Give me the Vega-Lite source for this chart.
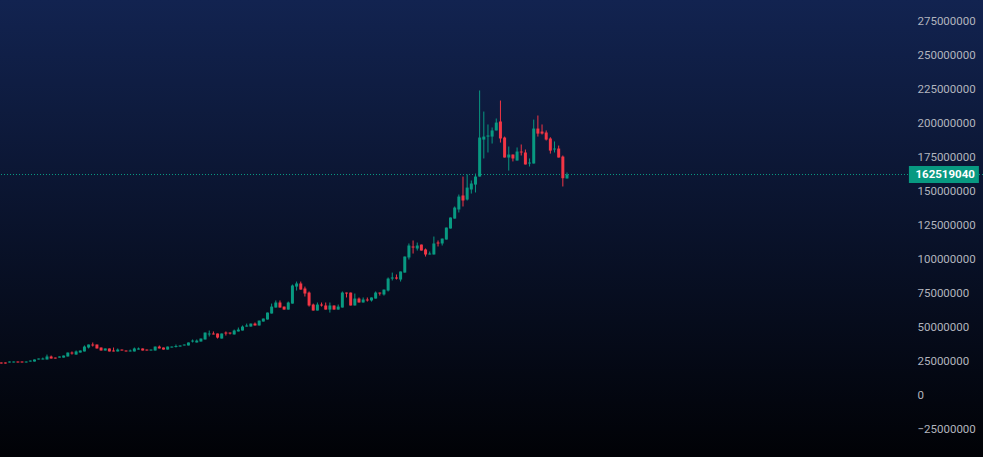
{
  "$schema": "https://vega.github.io/schema/vega-lite/v6.json",
  "width": 983,
  "height": 457,
  "padding": 0,
  "autosize": {"type": "none"},
  "background": "#020308",
  "view": {
    "stroke": null,
    "fill": {
      "gradient": "linear",
      "x1": 0, "y1": 0, "x2": 0, "y2": 1,
      "stops": [
        {"offset": 0, "color": "#122350"},
        {"offset": 1, "color": "#010206"}
      ]
    }
  },
  "config": {"font": "Roboto"},
  "datasets": {
    "candles": [
      {"t":-1,"o":24300000,"h":24300000,"l":23500000,"c":23500000},
      {"t":0,"o":24300000,"h":24300000,"l":23500000,"c":23500000},
      {"t":1,"o":24300000,"h":25000000,"l":24300000,"c":25000000},
      {"t":2,"o":24300000,"h":25000000,"l":24300000,"c":25000000},
      {"t":3,"o":25000000,"h":25000000,"l":24300000,"c":24300000},
      {"t":4,"o":25000000,"h":25000000,"l":24300000,"c":24300000},
      {"t":5,"o":24300000,"h":25000000,"l":24300000,"c":25000000},
      {"t":6,"o":25000000,"h":25700000,"l":25000000,"c":25700000},
      {"t":7,"o":25000000,"h":26500000,"l":25000000,"c":26500000},
      {"t":8,"o":26500000,"h":27200000,"l":26500000,"c":27200000},
      {"t":9,"o":26500000,"h":27900000,"l":26500000,"c":27200000},
      {"t":10,"o":26500000,"h":30100000,"l":26500000,"c":28700000},
      {"t":11,"o":28700000,"h":29400000,"l":27200000,"c":27200000},
      {"t":12,"o":27900000,"h":27900000,"l":27200000,"c":27200000},
      {"t":13,"o":27900000,"h":28700000,"l":27900000,"c":28700000},
      {"t":14,"o":27900000,"h":29400000,"l":27900000,"c":29400000},
      {"t":15,"o":28700000,"h":31600000,"l":28700000,"c":31600000},
      {"t":16,"o":31600000,"h":32400000,"l":30100000,"c":30900000},
      {"t":17,"o":30100000,"h":33100000,"l":30100000,"c":32400000},
      {"t":18,"o":31600000,"h":33100000,"l":31600000,"c":33100000},
      {"t":19,"o":32400000,"h":36800000,"l":32400000,"c":36000000},
      {"t":20,"o":35300000,"h":37500000,"l":34600000,"c":37500000},
      {"t":21,"o":37500000,"h":39000000,"l":36000000,"c":36800000},
      {"t":22,"o":37500000,"h":37500000,"l":34600000,"c":34600000},
      {"t":23,"o":35300000,"h":35300000,"l":33100000,"c":33100000},
      {"t":24,"o":33100000,"h":34600000,"l":33100000,"c":34600000},
      {"t":25,"o":34600000,"h":34600000,"l":32400000,"c":32400000},
      {"t":26,"o":33100000,"h":35300000,"l":32400000,"c":32400000},
      {"t":27,"o":32400000,"h":34600000,"l":32400000,"c":33800000},
      {"t":28,"o":33800000,"h":33800000,"l":33100000,"c":33100000},
      {"t":29,"o":33100000,"h":33100000,"l":32400000,"c":32400000},
      {"t":30,"o":32400000,"h":33800000,"l":32400000,"c":33100000},
      {"t":31,"o":32400000,"h":35300000,"l":32400000,"c":34600000},
      {"t":32,"o":33800000,"h":35300000,"l":33800000,"c":34600000},
      {"t":33,"o":34600000,"h":34600000,"l":33100000,"c":33100000},
      {"t":34,"o":33800000,"h":33800000,"l":33100000,"c":33100000},
      {"t":35,"o":33100000,"h":33800000,"l":33100000,"c":33800000},
      {"t":36,"o":33100000,"h":36000000,"l":33100000,"c":36000000},
      {"t":37,"o":36000000,"h":36800000,"l":34600000,"c":34600000},
      {"t":38,"o":35300000,"h":35300000,"l":33800000,"c":33800000},
      {"t":39,"o":33800000,"h":36000000,"l":33800000,"c":36000000},
      {"t":40,"o":35300000,"h":36000000,"l":35300000,"c":36000000},
      {"t":41,"o":35700000,"h":37500000,"l":35300000,"c":36400000},
      {"t":42,"o":36000000,"h":36800000,"l":36000000,"c":36800000},
      {"t":43,"o":36800000,"h":37500000,"l":36800000,"c":37500000},
      {"t":44,"o":36800000,"h":39000000,"l":36800000,"c":39000000},
      {"t":45,"o":39700000,"h":41200000,"l":39000000,"c":40400000},
      {"t":46,"o":39000000,"h":41200000,"l":39000000,"c":40400000},
      {"t":47,"o":39700000,"h":41900000,"l":39700000,"c":41900000},
      {"t":48,"o":41200000,"h":46300000,"l":41200000,"c":46300000},
      {"t":49,"o":44900000,"h":47800000,"l":43400000,"c":45600000},
      {"t":50,"o":45600000,"h":47100000,"l":44900000,"c":44900000},
      {"t":51,"o":45600000,"h":45600000,"l":41900000,"c":42600000},
      {"t":52,"o":41900000,"h":45600000,"l":41900000,"c":45600000},
      {"t":53,"o":46300000,"h":47100000,"l":44100000,"c":45600000},
      {"t":54,"o":46300000,"h":46300000,"l":44900000,"c":45600000},
      {"t":55,"o":44900000,"h":48500000,"l":44900000,"c":47800000},
      {"t":56,"o":47100000,"h":50000000,"l":47100000,"c":48500000},
      {"t":57,"o":47800000,"h":51500000,"l":47800000,"c":50700000},
      {"t":58,"o":50700000,"h":52900000,"l":50700000,"c":51500000},
      {"t":59,"o":50700000,"h":52900000,"l":50700000,"c":52900000},
      {"t":60,"o":52900000,"h":53700000,"l":51500000,"c":51500000},
      {"t":61,"o":51500000,"h":55100000,"l":51500000,"c":55100000},
      {"t":62,"o":54400000,"h":56600000,"l":54400000,"c":56600000},
      {"t":63,"o":55900000,"h":61000000,"l":55900000,"c":61000000},
      {"t":64,"o":60300000,"h":67600000,"l":60300000,"c":65400000},
      {"t":65,"o":64700000,"h":69900000,"l":64700000,"c":68400000},
      {"t":66,"o":68400000,"h":69900000,"l":64700000,"c":64700000},
      {"t":67,"o":65400000,"h":65400000,"l":63200000,"c":63200000},
      {"t":68,"o":63200000,"h":69100000,"l":63200000,"c":68400000},
      {"t":69,"o":67600000,"h":81600000,"l":67600000,"c":80900000},
      {"t":70,"o":80100000,"h":83800000,"l":77200000,"c":82400000},
      {"t":71,"o":82400000,"h":83800000,"l":77900000,"c":77900000},
      {"t":72,"o":78700000,"h":80100000,"l":72800000,"c":75000000},
      {"t":73,"o":75700000,"h":76500000,"l":65400000,"c":66200000},
      {"t":74,"o":66900000,"h":67600000,"l":62500000,"c":62500000},
      {"t":75,"o":62500000,"h":68400000,"l":62500000,"c":66900000},
      {"t":76,"o":66900000,"h":68400000,"l":65400000,"c":66200000},
      {"t":77,"o":66200000,"h":68400000,"l":63200000,"c":63200000},
      {"t":78,"o":63200000,"h":68400000,"l":61000000,"c":66200000},
      {"t":79,"o":66200000,"h":66200000,"l":63200000,"c":63200000},
      {"t":80,"o":63200000,"h":66900000,"l":63200000,"c":65400000},
      {"t":81,"o":64700000,"h":76500000,"l":64700000,"c":75700000},
      {"t":82,"o":75700000,"h":75700000,"l":72100000,"c":75000000},
      {"t":83,"o":75700000,"h":75700000,"l":66200000,"c":66200000},
      {"t":84,"o":66200000,"h":75000000,"l":66200000,"c":71300000},
      {"t":85,"o":71300000,"h":72100000,"l":68400000,"c":68400000},
      {"t":86,"o":68400000,"h":72100000,"l":68400000,"c":70600000},
      {"t":87,"o":70600000,"h":72100000,"l":69100000,"c":69900000},
      {"t":88,"o":69900000,"h":72100000,"l":69100000,"c":72100000},
      {"t":89,"o":71300000,"h":76500000,"l":71300000,"c":75700000},
      {"t":90,"o":75700000,"h":75700000,"l":73500000,"c":75000000},
      {"t":91,"o":74300000,"h":77900000,"l":73500000,"c":77900000},
      {"t":92,"o":77200000,"h":86800000,"l":76500000,"c":86000000},
      {"t":93,"o":86000000,"h":90400000,"l":84600000,"c":86800000},
      {"t":94,"o":86800000,"h":89000000,"l":85300000,"c":86000000},
      {"t":95,"o":85300000,"h":91200000,"l":83800000,"c":91200000},
      {"t":96,"o":90400000,"h":102200000,"l":90400000,"c":102200000},
      {"t":97,"o":101500000,"h":111800000,"l":100000000,"c":110300000},
      {"t":98,"o":109600000,"h":114000000,"l":104400000,"c":108800000},
      {"t":99,"o":108100000,"h":112500000,"l":106600000,"c":110300000},
      {"t":100,"o":111000000,"h":111000000,"l":106600000,"c":106600000},
      {"t":101,"o":107400000,"h":108100000,"l":102200000,"c":103700000},
      {"t":102,"o":103700000,"h":105900000,"l":103700000,"c":104400000},
      {"t":103,"o":103700000,"h":116900000,"l":103700000,"c":111800000},
      {"t":104,"o":112500000,"h":114000000,"l":109600000,"c":111800000},
      {"t":105,"o":111800000,"h":115400000,"l":110300000,"c":115400000},
      {"t":106,"o":114700000,"h":123500000,"l":114700000,"c":123500000},
      {"t":107,"o":122800000,"h":130900000,"l":122800000,"c":130900000},
      {"t":108,"o":130100000,"h":139000000,"l":130100000,"c":138200000},
      {"t":109,"o":136800000,"h":147800000,"l":134600000,"c":146300000},
      {"t":110,"o":147100000,"h":161000000,"l":139000000,"c":143400000},
      {"t":111,"o":144100000,"h":162500000,"l":143400000,"c":152900000},
      {"t":112,"o":151500000,"h":158100000,"l":148500000,"c":155900000},
      {"t":113,"o":155100000,"h":163200000,"l":149300000,"c":161000000},
      {"t":114,"o":161000000,"h":224300000,"l":161000000,"c":189700000},
      {"t":115,"o":188200000,"h":208800000,"l":174300000,"c":190400000},
      {"t":116,"o":190400000,"h":199300000,"l":178700000,"c":191200000},
      {"t":117,"o":190400000,"h":197100000,"l":185300000,"c":194900000},
      {"t":118,"o":194900000,"h":203700000,"l":194900000,"c":200700000},
      {"t":119,"o":201500000,"h":216900000,"l":186000000,"c":189000000},
      {"t":120,"o":189700000,"h":190400000,"l":175000000,"c":175000000},
      {"t":121,"o":175000000,"h":183100000,"l":165400000,"c":177200000},
      {"t":122,"o":177200000,"h":177200000,"l":172100000,"c":174300000},
      {"t":123,"o":172800000,"h":182400000,"l":172800000,"c":179400000},
      {"t":124,"o":179400000,"h":184600000,"l":176500000,"c":178700000},
      {"t":125,"o":178700000,"h":180900000,"l":169900000,"c":169900000},
      {"t":126,"o":170600000,"h":174300000,"l":168400000,"c":171300000},
      {"t":127,"o":170600000,"h":202900000,"l":170600000,"c":196300000},
      {"t":128,"o":196300000,"h":205900000,"l":190400000,"c":192600000},
      {"t":129,"o":194100000,"h":199300000,"l":191900000,"c":192600000},
      {"t":130,"o":193400000,"h":194900000,"l":187500000,"c":188200000},
      {"t":131,"o":189000000,"h":189900000,"l":177900000,"c":180100000},
      {"t":132,"o":180900000,"h":186800000,"l":178700000,"c":181600000},
      {"t":133,"o":181600000,"h":183800000,"l":175000000,"c":175000000},
      {"t":134,"o":175700000,"h":176500000,"l":153700000,"c":159800000},
      {"t":135,"o":159600000,"h":164000000,"l":159600000,"c":162519040}
    ],
    "last": [{"t": 225.6, "label_t": 225.9, "price": 162519040, "label": "162519040"}]
  },
  "encoding": {
    "y": {
      "type": "quantitative",
      "scale": {"domain": [-45200000, 290830000], "nice": false, "zero": false},
      "axis": {
        "orient": "right",
        "title": null,
        "values": [-25000000, 0, 25000000, 50000000, 75000000, 100000000, 125000000, 150000000, 175000000, 200000000, 225000000, 250000000, 275000000],
        "format": "d",
        "grid": false,
        "domain": false,
        "ticks": false,
        "labelPadding": -66,
        "labelAlign": "left",
        "labelColor": "#b2b5be",
        "labelFontSize": 11.5,
        "labelBound": false,
        "labelOverlap": false
      }
    }
  },
  "layer": [
    {
      "data": {"name": "last"},
      "mark": {"type": "rule", "color": "#089981", "strokeWidth": 1, "strokeDash": [1, 2]},
      "encoding": {"y": {"field": "price", "type": "quantitative"}}
    },
    {
      "data": {"name": "candles"},
      "mark": {"type": "rule", "strokeWidth": 1},
      "encoding": {
        "x": {"field": "t", "type": "quantitative", "scale": {"domain": [-1.298, 235], "nice": false, "zero": false, "padding": 0}, "axis": null},
        "y": {"field": "l", "type": "quantitative"},
        "y2": {"field": "h"},
        "color": {"condition": {"test": "datum.c >= datum.o", "value": "#089981"}, "value": "#f23645"}
      }
    },
    {
      "data": {"name": "candles"},
      "mark": {"type": "bar", "width": 3},
      "encoding": {
        "x": {"field": "t", "type": "quantitative", "axis": null},
        "y": {"field": "o", "type": "quantitative"},
        "y2": {"field": "c"},
        "color": {"condition": {"test": "datum.c >= datum.o", "value": "#089981"}, "value": "#f23645"}
      }
    },
    {
      "data": {"name": "last"},
      "mark": {"type": "rect", "width": 70, "height": 17, "color": "#089981"},
      "encoding": {
        "x": {"field": "t", "type": "quantitative", "axis": null},
        "y": {"field": "price", "type": "quantitative"}
      }
    },
    {
      "data": {"name": "last"},
      "mark": {"type": "text", "color": "#ffffff", "fontSize": 11.5, "fontWeight": "bold"},
      "encoding": {
        "x": {"field": "label_t", "type": "quantitative", "axis": null},
        "y": {"field": "price", "type": "quantitative"},
        "text": {"field": "label"}
      }
    }
  ]
}
